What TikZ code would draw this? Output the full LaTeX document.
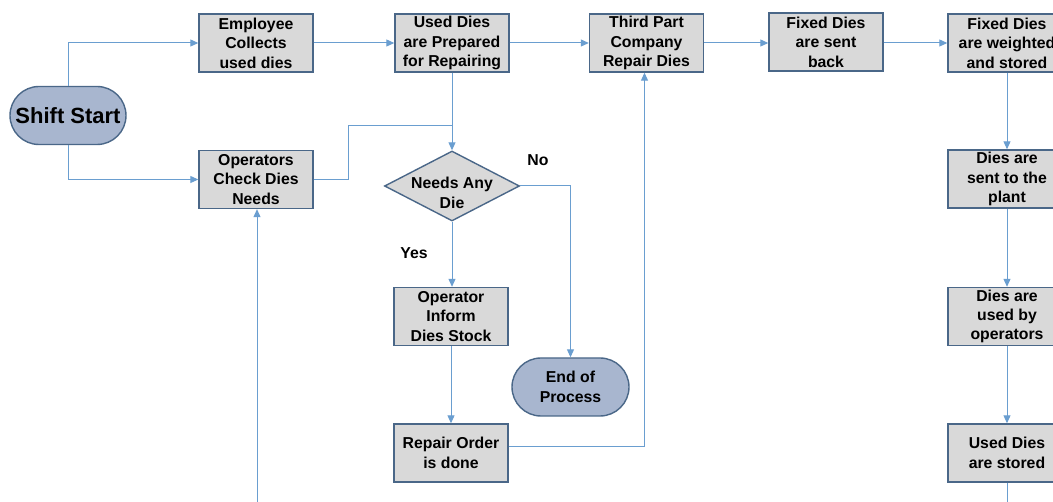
\documentclass[tikz,border=0pt]{standalone}
\usepackage{fontspec}
\setmainfont{Liberation Sans}
\usetikzlibrary{shapes.misc,shapes.geometric,arrows.meta}
\definecolor{boxfill}{HTML}{D9D9D9}
\definecolor{boxedge}{HTML}{4A6788}
\definecolor{termfill}{HTML}{A8B6CF}
\definecolor{linkblue}{HTML}{6A9ED0}
\newcommand{\boxfont}{\fontsize{15.8}{19.4}\selectfont\bfseries}
\tikzset{
  stepbox/.style={draw=boxedge, line width=1.4pt, fill=boxfill, minimum width=114pt,
    minimum height=58pt, inner sep=0pt, align=center, font=\boxfont},
  terminal/.style={rounded rectangle, draw=boxedge, line width=1.4pt, fill=termfill,
    minimum width=116pt, minimum height=58pt, inner sep=0pt, align=center,
    font=\boxfont},
  decision/.style={diamond, aspect=1.93, draw=boxedge, line width=1.4pt, fill=boxfill,
    inner sep=0pt, minimum width=135pt, minimum height=70pt},
  link/.style={draw=linkblue, line width=1pt, -{Triangle[length=8pt,width=7pt]}},
  plainlink/.style={draw=linkblue, line width=1pt},
  tag/.style={font=\boxfont, align=center}
}
\begin{document}
\begin{tikzpicture}[x=1pt,y=-1pt]
\useasboundingbox (0,0) rectangle (1053,502);
\clip (0,0) rectangle (1053,502);
\fill[white] (0,0) rectangle (1053,502);

% start and end terminals
\node[terminal, font=\fontsize{22}{25}\selectfont\bfseries] (start) at (68,115.5) {Shift Start};
\node[terminal, minimum width=117pt] (eop) at (570.5,387) {End of\\Process};

% top row
\node[stepbox] (collect) at (256,43) {Employee\\Collects\\used dies};
\node[stepbox] (prep) at (452,43) {Used Dies\\are Prepared\\for Repairing};
\node[stepbox] (third) at (646.5,43) {Third Part\\Company\\Repair Dies};
\node[stepbox] (back) at (826,42) {Fixed Dies\\are sent\\back};
\node[stepbox, minimum width=118pt] (weigh) at (1007,43) {Fixed Dies\\are weighted\\and stored};

% left branch
\node[stepbox] (check) at (256,179.5) {Operators\\Check Dies\\Needs};

% decision column (its text sits a little below the centre)
\node[decision, label={[tag, yshift=-7pt]center:{Needs Any\\Die}}] (need) at (452,186) {};
\node[stepbox] (inform) at (451,316.5) {Operator\\Inform\\Dies Stock};
\node[stepbox] (order) at (451,453) {Repair Order\\is done};

% right column
\node[stepbox, minimum width=118pt] (plant) at (1007,179) {Dies are\\sent to the\\plant};
\node[stepbox, minimum width=118pt] (use) at (1007,316.5) {Dies are\\used by\\operators};
\node[stepbox, minimum width=118pt] (stored) at (1007,453) {Used Dies\\are stored};

% branch labels
\node[tag] (no) at (538,160) {No};
\node[tag] (yes) at (414,253) {Yes};

% loose ends leaving the sheet
\coordinate (loopin) at (257,502);
\coordinate (loopout) at (1007,502);
\coordinate (join) at (452,126);

% connectors
\draw[link] (start.north) |- (collect.west);
\draw[link] (start.south) |- (check.west);
\draw[link] (collect) -- (prep);
\draw[link] (prep) -- (third);
\draw[link] (third.east) -- (back.west |- third.east);
\draw[link] (back.east |- weigh.west) -- (weigh.west);
\draw[link] (prep) -- (need);
\draw[plainlink] (check.east) -- ++(35,0) |- (join);
\draw[link] (need.east) -| (eop.north);
\draw[link] (need) -- (need.south |- inform.north);
\draw[link] (inform) -- (inform.south |- order.north);
\draw[link] ([yshift=6pt]order.east) -| ([xshift=-2pt]third.south);
\draw[link] (weigh) -- (plant);
\draw[link] (plant) -- (use);
\draw[link] (use) -- (stored);
\draw[plainlink] (stored) -- (loopout);
\draw[link] (loopin) -- (loopin |- check.south);
\end{tikzpicture}
\end{document}
